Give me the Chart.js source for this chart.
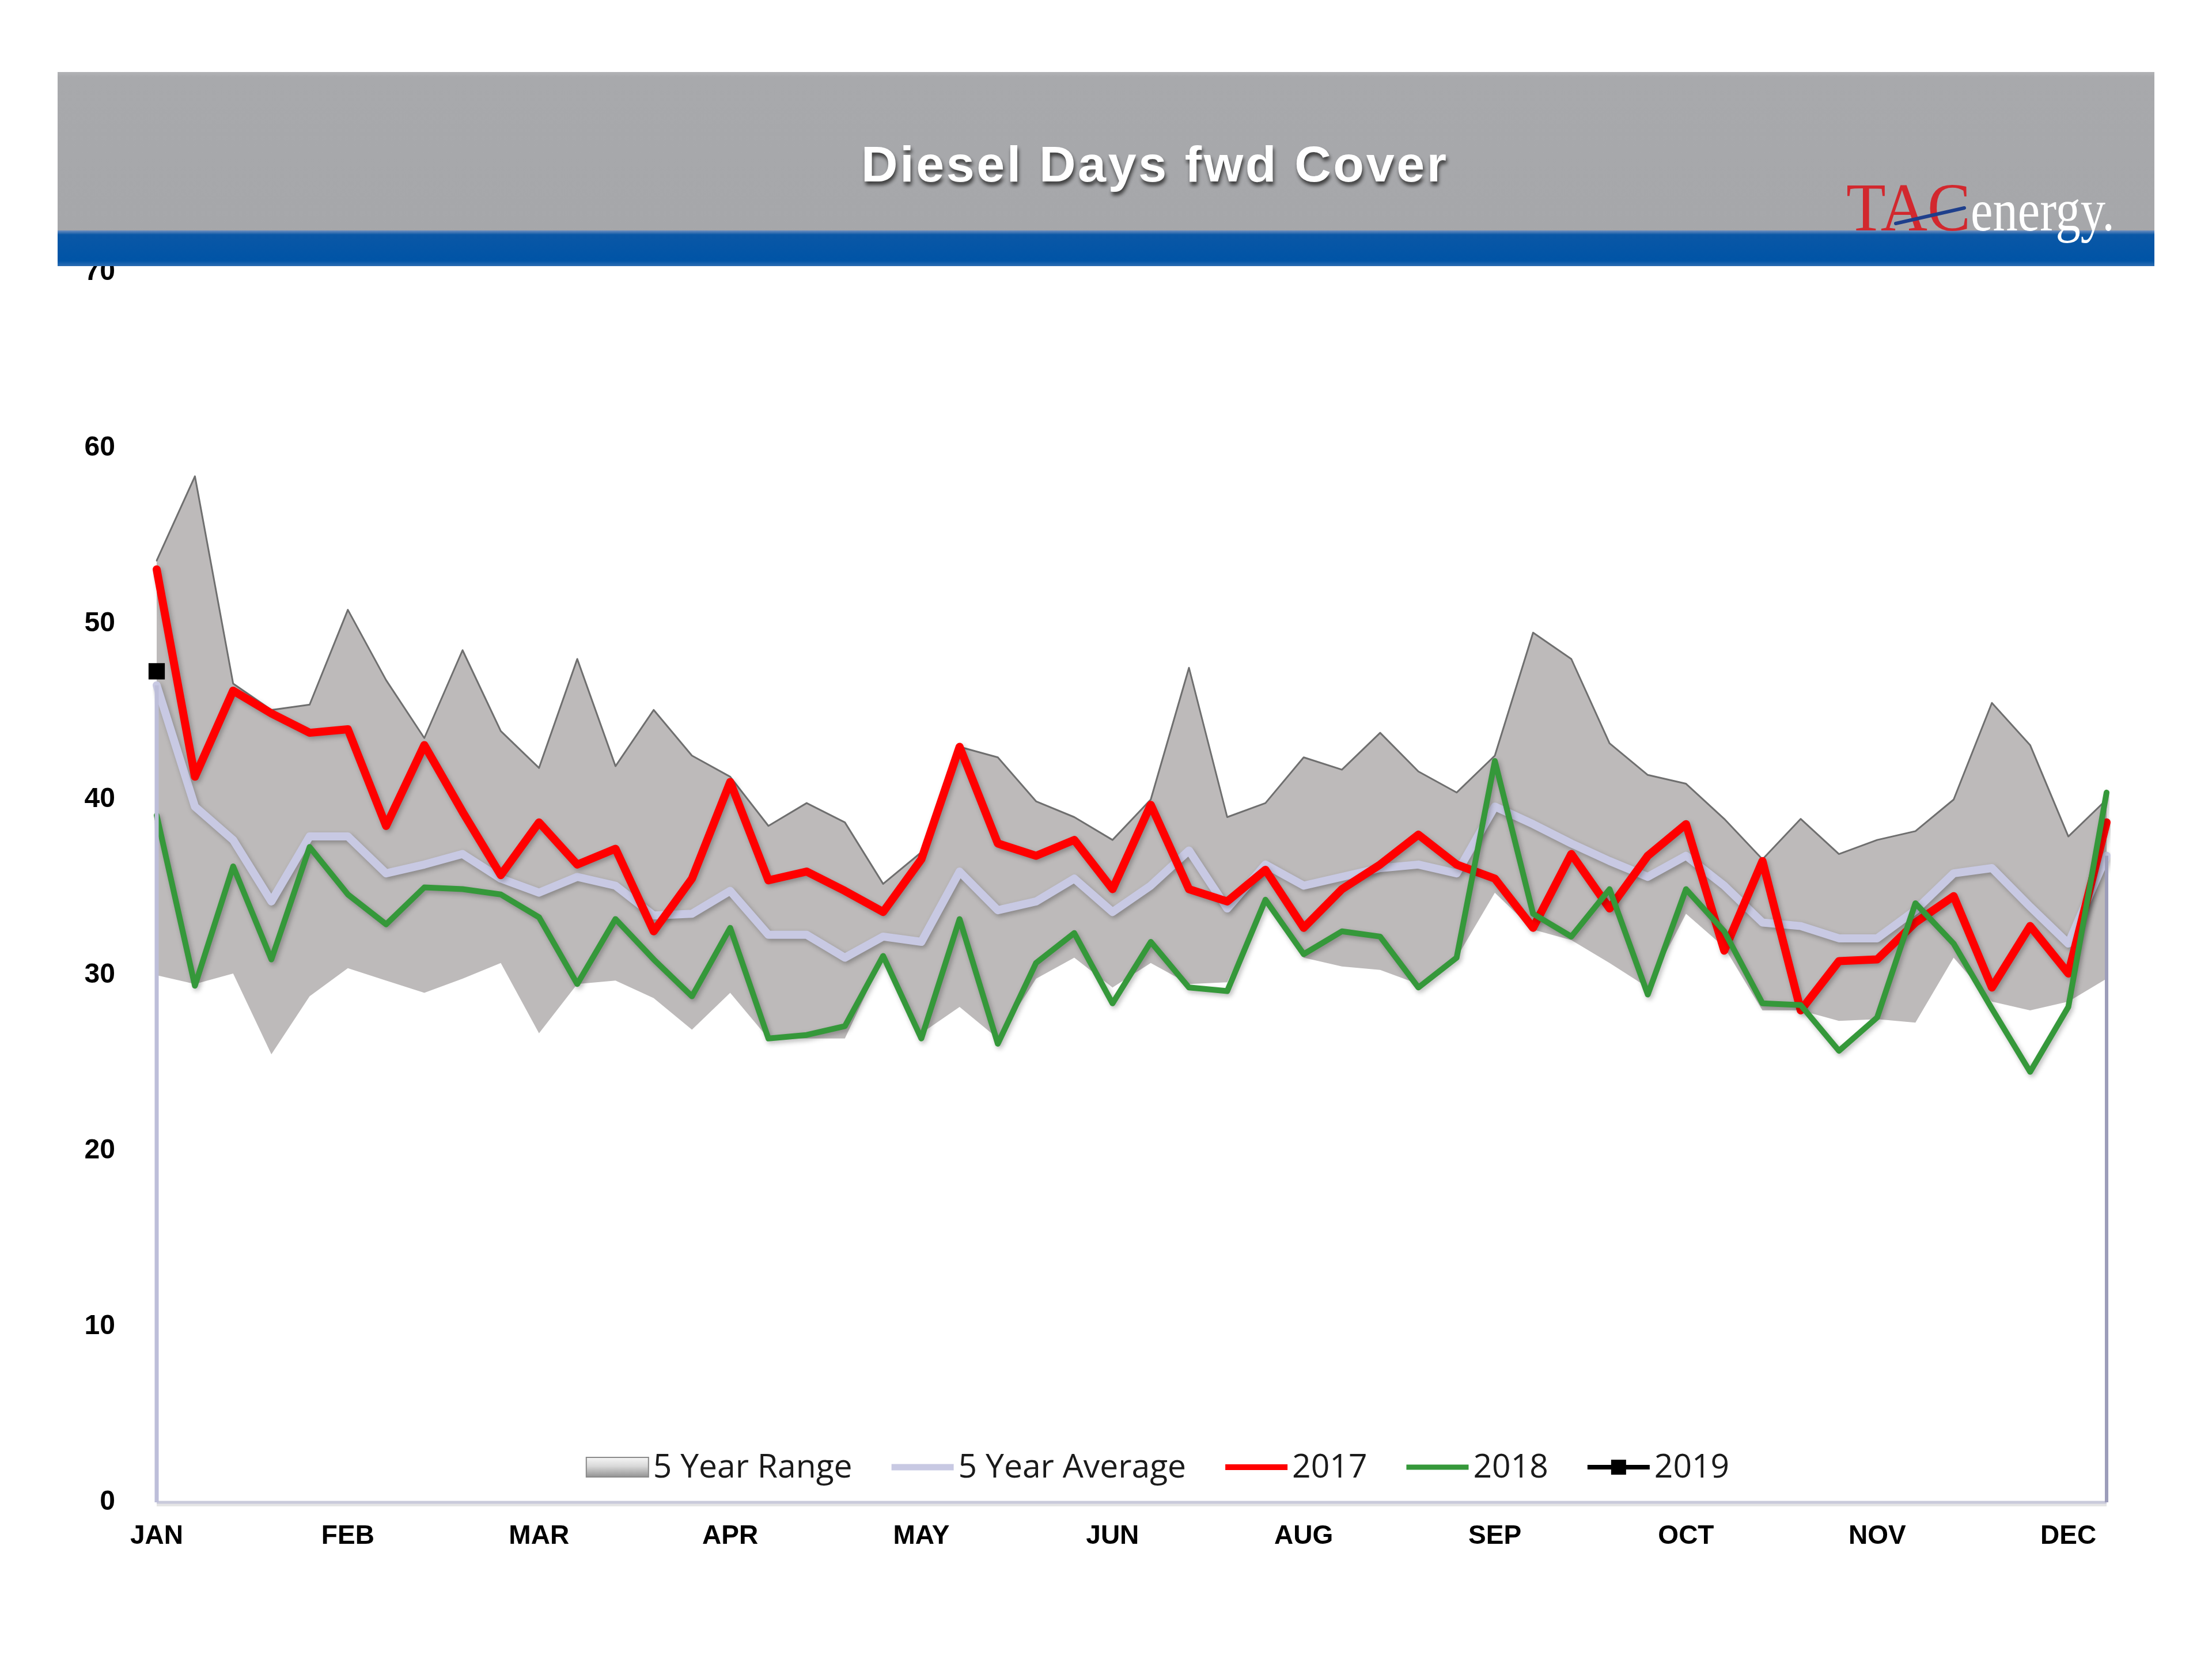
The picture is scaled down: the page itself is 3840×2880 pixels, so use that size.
<!DOCTYPE html>
<html><head><meta charset="utf-8">
<script src="https://cdn.jsdelivr.net/npm/chart.js@4.4.0/dist/chart.umd.min.js"></script>
<style>html,body{margin:0;padding:0;background:#fff}canvas{display:block}</style>
</head><body>
<canvas id="c" width="3840" height="2880" style="width:3840px;height:2880px"></canvas>
<script>
// ---- DATA ----
const chartTitle = 'Diesel Days fwd Cover';
const weeks = ['JAN','','','','','FEB','','','','','MAR','','','','','APR','','','','',
               'MAY','','','','','JUN','','','','','AUG','','','','','SEP','','','','',
               'OCT','','','','','NOV','','','','','DEC',''];
const yTicks = [0,10,20,30,40,50,60,70];
const rangeHigh = [53.6,58.4,46.6,45.1,45.4,50.8,46.8,43.5,48.5,43.9,
                   41.8,48.0,41.9,45.1,42.5,41.3,38.5,39.8,38.7,35.2,
                   37.0,43.0,42.4,39.9,39.0,37.7,40.0,47.5,39.0,39.8,
                   42.4,41.7,43.8,41.6,40.4,42.5,49.5,48.0,43.2,41.4,
                   40.9,38.9,36.6,38.9,36.9,37.7,38.2,40.0,45.5,43.1,
                   37.9,40.0];
const rangeLow  = [30.0,29.5,30.1,25.5,28.8,30.4,29.7,29.0,29.8,30.7,
                   26.7,29.5,29.7,28.7,26.9,29.0,26.4,26.4,26.4,31.0,
                   26.7,28.2,26.4,29.8,31.0,29.3,30.7,29.5,29.6,34.3,
                   31.0,30.5,30.3,29.5,31.0,34.7,32.6,32.0,30.7,29.3,
                   33.5,31.6,28.0,28.0,27.4,27.5,27.3,31.0,28.5,28.0,
                   28.5,29.8];
const avg5      = [46.5,39.6,37.7,34.2,37.9,37.9,35.8,36.3,36.9,35.5,
                   34.7,35.6,35.1,33.4,33.5,34.8,32.3,32.3,31.0,32.2,
                   31.9,35.9,33.7,34.2,35.5,33.6,35.1,37.1,33.8,36.3,
                   35.1,35.6,36.1,36.3,35.8,39.6,38.6,37.5,36.5,35.6,
                   36.8,35.1,33.0,32.8,32.1,32.1,33.7,35.8,36.1,33.9,
                   31.8,36.8];
const y2017     = [53.1,41.3,46.2,44.9,43.8,44.0,38.5,43.1,39.3,35.7,
                   38.7,36.3,37.2,32.5,35.5,41.0,35.4,35.9,34.8,33.6,
                   36.6,43.0,37.5,36.8,37.7,34.9,39.7,34.9,34.2,36.0,
                   32.7,34.9,36.3,38.0,36.3,35.5,32.7,36.9,33.8,36.8,
                   38.6,31.4,36.5,28.0,30.8,30.9,33.0,34.5,29.3,32.8,
                   30.1,38.7];
const y2018     = [39.1,29.4,36.2,30.9,37.3,34.6,32.9,35.0,34.9,34.6,
                   33.3,29.5,33.2,30.9,28.8,32.7,26.4,26.6,27.1,31.1,
                   26.4,33.2,26.1,30.7,32.4,28.4,31.9,29.3,29.1,34.3,
                   31.2,32.5,32.2,29.3,31.0,42.2,33.5,32.2,34.9,28.9,
                   34.9,32.5,28.4,28.3,25.7,27.6,34.1,31.8,28.1,24.5,
                   28.2,40.4];
const y2019     = [47.3];

// ---- PLUGINS ----
const AXIS_FONT = '"Liberation Sans", Arial, sans-serif';

const bgPlugin = {
  id: 'bg',
  beforeDraw(chart) {
    const ctx = chart.ctx;
    ctx.save();
    ctx.fillStyle = '#ffffff';
    ctx.fillRect(0, 0, chart.width, chart.height);
    ctx.restore();
  }
};

const shadowPlugin = {
  id: 'lineShadow',
  beforeDatasetDraw(chart, args) {
    if ([2,3,4].includes(args.index)) {
      const ctx = chart.ctx;
      ctx.save();
      ctx.shadowColor = 'rgba(0,0,0,0.28)';
      ctx.shadowBlur = 8;
      ctx.shadowOffsetX = 3;
      ctx.shadowOffsetY = 4;
    }
  },
  afterDatasetDraw(chart, args) {
    if ([2,3,4].includes(args.index)) chart.ctx.restore();
  }
};

const framePlugin = {
  id: 'frame',
  afterDatasetsDraw(chart) {
    const ctx = chart.ctx, x = chart.scales.x, y = chart.scales.y;
    const last = weeks.length - 1;
    const x0 = x.getPixelForValue(0), x1 = x.getPixelForValue(last);
    const yb = y.getPixelForValue(0);
    ctx.save();
    ctx.lineCap = 'butt';
    ctx.strokeStyle = 'rgba(0,0,0,0.10)';
    ctx.lineWidth = 6;
    ctx.beginPath(); ctx.moveTo(x0, yb + 4); ctx.lineTo(x1, yb + 4); ctx.stroke();
    ctx.strokeStyle = '#C9CADB';
    ctx.lineWidth = 5;
    ctx.beginPath(); ctx.moveTo(x0, yb); ctx.lineTo(x1, yb); ctx.stroke();
    ctx.strokeStyle = '#BDBED9';
    ctx.lineWidth = 7;
    ctx.beginPath(); ctx.moveTo(x0, y.getPixelForValue(avg5[0])); ctx.lineTo(x0, yb); ctx.stroke();
    ctx.strokeStyle = '#9C9DBA';
    ctx.lineWidth = 6;
    ctx.beginPath(); ctx.moveTo(x1, y.getPixelForValue(avg5[last])); ctx.lineTo(x1, yb); ctx.stroke();
    ctx.restore();
  }
};

const legendPlugin = {
  id: 'customLegend',
  afterDraw(chart) {
    const ctx = chart.ctx, ds = chart.data.datasets;
    const items = [
      {label: ds[1].label, type: 'range'},
      {label: ds[2].label, type: 'line', color: ds[2].borderColor, h: 11},
      {label: ds[3].label, type: 'line', color: ds[3].borderColor, h: 10},
      {label: ds[4].label, type: 'line', color: ds[4].borderColor, h: 9},
      {label: ds[5].label, type: 'marker', color: ds[5].borderColor, h: 8}
    ];
    ctx.save();
    ctx.font = '57px "Open Sans", "Liberation Sans", sans-serif';
    ctx.textBaseline = 'middle';
    ctx.textAlign = 'left';
    const iconW = 108, gapIT = 8, gapItems = 68;
    let total = 0;
    items.forEach((it, i) => {
      it.tw = ctx.measureText(it.label).width;
      total += iconW + gapIT + it.tw + (i < items.length - 1 ? gapItems : 0);
    });
    let x = 2010 - total / 2;
    const yc = 2547;
    items.forEach(it => {
      if (it.type === 'range') {
        const g = ctx.createLinearGradient(0, yc - 18, 0, yc + 18);
        g.addColorStop(0, '#f8f8f8');
        g.addColorStop(0.45, '#d9d9d9');
        g.addColorStop(1, '#8f8f8f');
        ctx.fillStyle = g;
        ctx.fillRect(x, yc - 17, iconW, 34);
        ctx.strokeStyle = '#8a8a8a';
        ctx.lineWidth = 2;
        ctx.strokeRect(x, yc - 17, iconW, 34);
      } else {
        ctx.fillStyle = it.color;
        ctx.fillRect(x, yc - it.h / 2, iconW, it.h);
        if (it.type === 'marker') {
          ctx.fillRect(x + iconW / 2 - 13, yc - 13, 26, 26);
        }
      }
      ctx.fillStyle = '#1a1a1a';
      ctx.fillText(it.label, x + iconW + gapIT, yc + 2);
      x += iconW + gapIT + it.tw + gapItems;
    });
    ctx.restore();
  }
};

const bannerPlugin = {
  id: 'banner',
  afterDraw(chart) {
    const ctx = chart.ctx;
    ctx.save();
    const gg = ctx.createLinearGradient(0, 125, 0, 402);
    gg.addColorStop(0, '#B2B3B6');
    gg.addColorStop(0.03, '#A8A9AC');
    gg.addColorStop(1, '#A6A7AA');
    ctx.fillStyle = gg;
    ctx.fillRect(100, 125, 3640, 278);
    const bg = ctx.createLinearGradient(0, 400, 0, 462);
    bg.addColorStop(0, '#6E8FC0');
    bg.addColorStop(0.12, '#0A57A6');
    bg.addColorStop(0.85, '#0054A6');
    bg.addColorStop(1, '#2D6DB3');
    ctx.fillStyle = bg;
    ctx.fillRect(100, 400, 3640, 62);
    ctx.font = 'bold 88px "Liberation Sans", Arial, sans-serif';
    ctx.textBaseline = 'middle';
    ctx.textAlign = 'left';
    const w0 = ctx.measureText(chartTitle).width;
    const sp = Math.max(0, (1016 - w0) / (chartTitle.length - 1));
    ctx.letterSpacing = sp + 'px';
    const wt = ctx.measureText(chartTitle).width - sp;
    ctx.shadowColor = 'rgba(40,40,40,0.85)';
    ctx.shadowBlur = 6;
    ctx.shadowOffsetX = 2;
    ctx.shadowOffsetY = 6;
    ctx.fillStyle = '#ffffff';
    ctx.fillText(chartTitle, 2003 - wt / 2, 291);
    ctx.letterSpacing = '0px';
    ctx.shadowColor = 'rgba(0,0,0,0)';
    ctx.textBaseline = 'alphabetic';
    ctx.font = '118px "Liberation Serif", "Times New Roman", serif';
    let tw = ctx.measureText('TAC').width;
    ctx.save();
    ctx.translate(3205, 400);
    ctx.scale(216 / tw, 1);
    ctx.fillStyle = '#D2282E';
    ctx.fillText('TAC', 0, 0);
    ctx.restore();
    ctx.font = '104px "Liberation Serif", "Times New Roman", serif';
    tw = ctx.measureText('energy.').width;
    ctx.save();
    ctx.translate(3421, 400);
    ctx.scale(250 / tw, 1);
    ctx.fillStyle = '#ffffff';
    ctx.fillText('energy.', 0, 0);
    ctx.restore();
    ctx.strokeStyle = '#1E3F8C';
    ctx.lineWidth = 6;
    ctx.lineCap = 'round';
    ctx.beginPath(); ctx.moveTo(3291, 388); ctx.lineTo(3410, 361); ctx.stroke();
    ctx.restore();
  }
};

// ---- CHART ----
const ctx = document.getElementById('c').getContext('2d');
new Chart(ctx, {
  type: 'line',
  data: {
    labels: weeks,
    datasets: [
      {label: '5 Year Range', data: rangeLow, borderColor: 'rgba(0,0,0,0)', borderWidth: 0,
       pointRadius: 0, fill: false, order: 10},
      {label: '5 Year Range', data: rangeHigh, borderColor: '#6F6F6F', borderWidth: 3,
       pointRadius: 0, fill: '-1', backgroundColor: '#BDBABA', order: 9},
      {label: '5 Year Average', data: avg5, borderColor: '#C8C9E3', borderWidth: 14,
       pointRadius: 0, order: 5},
      {label: '2017', data: y2017, borderColor: '#FF0000', borderWidth: 14,
       pointRadius: 0, order: 4},
      {label: '2018', data: y2018, borderColor: '#35983A', borderWidth: 10,
       pointRadius: 0, order: 3},
      {label: '2019', data: y2019, borderColor: '#000000', backgroundColor: '#000000', borderWidth: 8,
       pointStyle: 'rect', pointRadius: 20, pointBorderWidth: 0, order: 1}
    ]
  },
  options: {
    responsive: false,
    animation: false,
    devicePixelRatio: 1,
    layout: {padding: {left: 100, right: 183, top: 473, bottom: 172}},
    elements: {line: {tension: 0, borderJoinStyle: 'round', borderCapStyle: 'round'}},
    plugins: {legend: {display: false}, tooltip: {enabled: false}, title: {display: false}},
    scales: {
      x: {
        offset: false,
        grid: {display: false, drawTicks: false},
        border: {display: false},
        ticks: {autoSkip: false, maxRotation: 0, minRotation: 0, padding: 32, color: '#000',
                font: {family: AXIS_FONT, weight: 'bold', size: 46}},
        afterFit(s) { s.height = 100; }
      },
      y: {
        min: yTicks[0], max: yTicks[yTicks.length - 1],
        grid: {display: false, drawTicks: false},
        border: {display: false},
        afterBuildTicks(s) { s.ticks = yTicks.map(v => ({value: v})); },
        ticks: {padding: 72, color: '#000', font: {family: AXIS_FONT, weight: 'bold', size: 48}},
        afterFit(s) { s.width = 172; }
      }
    }
  },
  plugins: [bgPlugin, shadowPlugin, framePlugin, legendPlugin, bannerPlugin]
});
</script>
</body></html>
